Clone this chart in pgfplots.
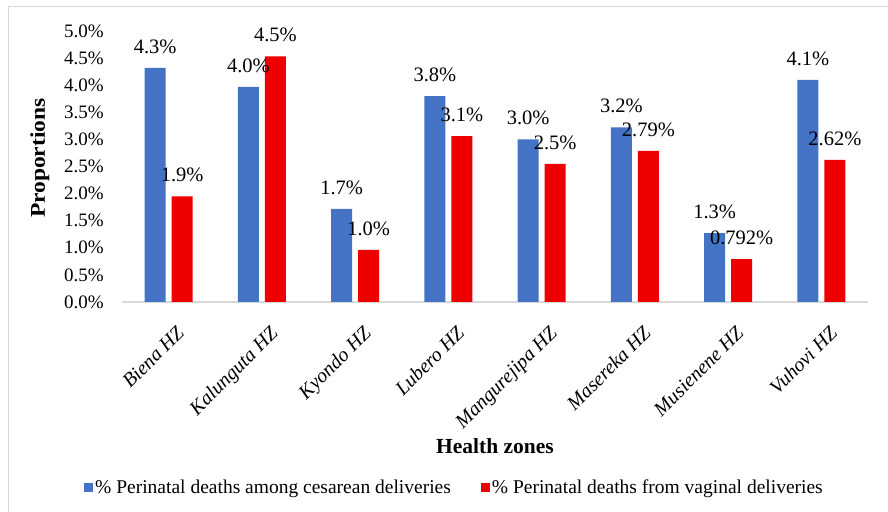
\documentclass[border=0pt]{standalone}
\usepackage{pgfplots}
\pgfplotsset{compat=1.18}
\usepackage{pgfplotstable}
\usepackage{graphicx}
\usepackage{fontspec}
\setmainfont{Liberation Serif}
\definecolor{cblue}{HTML}{4472C4}
\definecolor{cred}{HTML}{EE0000}
\definecolor{axgray}{HTML}{D9D9D9}
\pgfplotstableread{
x c r cl rl
0 4.32 1.95 4.3 1.9
1 3.97 4.53 4.0 4.5
2 1.72 0.96 1.7 1.0
3 3.80 3.06 3.8 3.1
4 3.00 2.55 3.0 2.5
5 3.22 2.79 3.2 2.79
6 1.27 0.792 1.3 0.792
7 4.10 2.62 4.1 2.62
}\data
\begin{document}
\begin{tikzpicture}
\useasboundingbox (0bp,0bp) rectangle (888bp,512bp);
\draw[axgray, line width=1bp] (8bp,0bp) -- (8bp,505bp) -- (888bp,505bp);
\begin{axis}[
  at={(122bp,210bp)}, anchor=south west,
  width=746bp, height=271bp, scale only axis,
  ybar=6bp, bar width=21bp,
  xmin=-0.5, xmax=7.5, ymin=0, ymax=5,
  axis lines*=left,
  y axis line style={draw=none},
  x axis line style={draw=axgray, line width=1.2bp, -},
  major tick length=0pt,
  ytick={0,0.5,...,5.01},
  yticklabel={\pgfmathprintnumber[fixed,fixed zerofill,precision=1]{\tick}\%},
  /pgf/number format/assume math mode=true,
  yticklabel style={font=\fontsize{19bp}{22bp}\selectfont, inner sep=0pt, xshift=-18bp},
  xtick={0,...,7},
  xticklabels={Biena HZ,Kalunguta HZ,Kyondo HZ,Lubero HZ,Mangurejipa HZ,Masereka HZ,Musienene HZ,Vuhovi HZ},
  xticklabel style={rotate=45, anchor=north east, inner sep=0pt, xshift=-11bp, yshift=-21bp, font=\itshape\fontsize{20bp}{22bp}\selectfont},
  ylabel={\scalebox{1.12}[1]{\textbf{Proportions}}},
  ylabel style={at={(axis description cs:-0.110,0.531)}, anchor=center, font=\fontsize{21bp}{24bp}\selectfont},
  xlabel={\textbf{Health zones}},
  xlabel style={at={(axis description cs:0.5,-0.531)}, anchor=center, font=\fontsize{21.5bp}{24bp}\selectfont},
  point meta=explicit symbolic,
  nodes near coords={\pgfplotspointmeta\%},
  every node near coord/.append style={font=\fontsize{20.5bp}{23bp}\selectfont, anchor=south, inner sep=0pt, yshift=14bp, text=black},
  legend columns=2,
  legend style={at={(axis description cs:0.4457,-0.683)}, anchor=center, draw=none, fill=none,
    font=\fontsize{19.5bp}{22bp}\selectfont,
    /tikz/every even column/.append style={column sep=28bp},
    nodes={inner sep=2bp}},
  legend image code/.code={\fill[#1] (0bp,-4.5bp) rectangle (9bp,4.5bp);},
]
\addplot[fill=cblue, draw=none] table[x=x, y=c, meta=cl] {\data};
\addplot[fill=cred, draw=none] table[x=x, y=r, meta=rl] {\data};
\legend{\% Perinatal deaths among cesarean deliveries, \% Perinatal deaths from vaginal deliveries}
\end{axis}
\end{tikzpicture}
\end{document}
